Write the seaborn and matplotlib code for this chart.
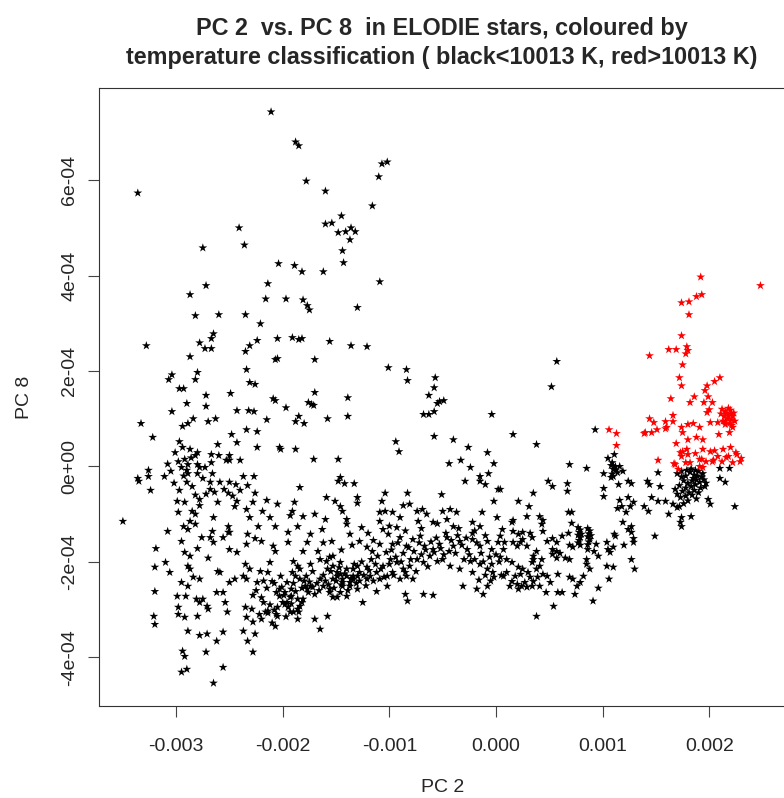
import numpy as np
import pandas as pd
import matplotlib
matplotlib.use("Agg")
import matplotlib.pyplot as plt
import seaborn as sns

# ---- data: (PC 2 in units of 1e-3, PC 8 in units of 1e-4) ----
black_top = [(-2.11,7.43),(-1.88,6.80),(-1.85,6.72),(-1.78,5.98),(-1.60,5.77),(-3.36,5.73),(-2.41,5.00),(-1.60,5.08),
    (-2.36,4.64),(-2.75,4.58),(-2.04,4.25),(-1.89,4.21),(-1.82,4.08),(-1.62,4.08),(-2.72,3.79),(-2.14,3.83),
    (-1.07,6.34),(-1.02,6.38),(-1.10,6.07),(-1.16,5.46),(-1.45,5.25),(-1.54,5.10),(-1.48,4.90),(-1.41,4.92),
    (-1.36,5.00),(-1.32,4.92),(-1.37,4.75),(-1.44,4.52),(-1.43,4.27),(-1.09,3.87)]

black_upper_left = [(-2.87,3.60),(-2.16,3.51),(-1.97,3.51),(-2.82,3.16),(-2.60,3.18),(-2.35,3.18),(-2.21,2.99),(-2.65,2.78),
    (-2.67,2.68),(-2.78,2.59),(-2.73,2.47),(-2.67,2.47),(-3.28,2.53),(-2.24,2.64),(-2.31,2.53),(-2.35,2.41),(-2.05,2.68),
    (-1.91,2.70),(-1.85,2.66),(-2.87,2.30),(-2.07,2.24),(-2.05,2.26),(-3.04,1.92),(-3.07,1.82),(-2.80,1.97),(-2.82,1.82),
    (-2.34,2.03),(-2.31,1.76),(-2.26,1.72),(-2.97,1.63),(-2.93,1.63),(-2.72,1.49),(-2.49,1.53),(-2.09,1.42),(-2.07,1.38),
    (-1.97,1.23),(-2.90,1.32),(-2.72,1.26),(-2.43,1.17),(-2.32,1.17),(-2.27,1.15),(-3.04,1.15),(-3.33,0.90),(-2.84,1.00),
    (-2.89,0.90),(-2.94,0.84),(-2.70,0.94),(-2.63,1.00),(-2.15,0.98),(-1.88,0.94),(-1.85,1.05),(-2.34,0.77),(-2.24,0.73),
    (-2.48,0.67),(-3.22,0.61),(-2.43,0.50),(-2.97,0.52),(-2.61,0.46),(-2.24,0.40),(-2.03,0.40),(-2.02,0.36),(-1.88,0.36),
    (-3.01,0.29),(-2.94,0.40),(-2.87,0.36),(-2.80,0.29),(-2.82,0.23),(-2.67,0.25),(-2.60,0.23),(-2.50,0.23),(-2.53,0.13),
    (-2.50,0.13),(-2.40,0.13),(-2.92,0.15),(-2.89,0.04),(-2.80,0.04),(-2.78,-0.02),(-2.73,-0.02),(-2.67,0.08),(-3.26,-0.08),
    (-3.26,-0.21),(-3.11,-0.21),(-2.90,-0.08),(-2.89,-0.15),(-2.80,-0.15),(-2.37,-0.21),(-2.27,-0.21),(-3.36,-0.25),
    (-3.02,-0.35),(-2.97,-0.50),(-2.93,-0.20),(-2.85,-0.42),(-2.82,-0.60),(-2.75,-0.25),(-2.72,-0.58),(-2.66,-0.15),
    (-2.55,-0.48),(-2.47,-0.62),(-2.40,-0.50),(-2.33,-0.40),(-3.05,-0.10),(-2.98,0.10),(-2.86,0.18),(-2.95,-0.02),(-3.08,0.05)]

black_upper_mid = [(-1.81,3.49),(-1.77,3.37),(-1.75,3.28),(-1.30,3.33),(-1.82,2.68),(-1.56,2.62),(-1.36,2.53),(-1.21,2.51),
    (-1.70,2.24),(-1.01,2.07),(-0.84,2.03),(-0.83,1.80),(-0.57,1.86),(-0.58,1.65),(-0.63,1.49),(-0.55,1.32),(-0.53,1.36),
    (-0.49,1.38),(-0.68,1.09),(-0.63,1.09),(-0.58,1.15),(-1.70,1.55),(-1.39,1.44),(-1.76,1.34),(-1.73,1.30),(-1.71,1.28),
    (-1.39,1.05),(-1.58,1.00),(-1.80,0.90),(-0.04,1.09),(-0.58,0.63),(-0.94,0.52),(-0.91,0.31),(-0.40,0.56),(-0.26,0.40),
    (-0.08,0.29),(-1.71,0.15),(-1.48,0.15),(-0.44,0.06),(-0.33,0.13),(-0.24,-0.02),(-0.02,0.06),(-0.07,-0.15),(-0.15,-0.21),
    (-1.46,-0.23)]

black_band_left = [(-3.50,-1.15),(-3.24,-0.50),(-3.35,-0.31),(-2.90,-0.33),(-2.68,-0.33),(-2.59,-0.33),(-2.50,-0.33),(-2.44,-0.38),
    (-2.99,-0.73),(-2.92,-0.75),(-2.78,-0.69),(-2.78,-0.82),(-2.61,-0.75),(-2.64,-0.54),(-2.68,-0.48),(-2.51,-0.56),(-2.43,-0.73),
    (-2.45,-0.84),(-2.26,-0.56),(-2.28,-0.75),(-2.15,-0.71),(-2.05,-0.79),(-1.89,-0.75),(-1.91,-0.94),(-1.84,-0.44),
    (-2.98,-0.96),(-2.85,-0.94),(-2.82,-1.00),(-2.87,-1.15),(-2.93,-1.26),(-2.82,-1.21),(-2.89,-1.32),(-2.65,-1.07),(-2.51,-1.26),
    (-2.50,-1.38),(-2.34,-0.90),(-2.31,-1.07),(-2.19,-0.94),(-2.12,-1.07),(-1.93,-1.03),(-1.86,-1.26),(-1.95,-1.38),(-2.07,-1.26),
    (-2.23,-1.26),(-2.33,-1.42),(-3.08,-1.36),(-2.95,-1.57),(-2.76,-1.49),(-2.68,-1.49),(-2.66,-1.36),(-2.65,-1.59),(-2.56,-1.49),
    (-2.51,-1.38),(-2.50,-1.74),(-2.43,-1.80),(-2.34,-1.63),(-2.26,-1.51),(-2.20,-1.57),(-2.09,-1.67),(-2.07,-1.78),(-1.95,-1.59),
    (-3.19,-1.72),(-3.20,-2.11),(-3.20,-2.62),(-3.21,-3.14),(-3.20,-3.31),(-3.10,-2.01),(-3.06,-2.22),
    (-2.92,-1.80),(-2.87,-1.88),(-2.80,-1.72),(-2.70,-1.92),(-2.89,-2.09),(-2.87,-2.15),(-2.95,-2.43),(-2.89,-2.51),(-2.84,-2.32),
    (-2.78,-2.36),(-2.61,-2.20),(-2.59,-2.22),(-2.50,-2.43),(-2.45,-2.36),(-2.35,-2.05),(-2.31,-2.15),(-2.37,-2.30),(-2.34,-2.36),
    (-2.24,-2.43),(-2.21,-2.20),(-2.14,-2.22),(-2.12,-2.01),(-2.10,-2.41),(-2.03,-2.57),(-1.90,-1.99),(-1.86,-2.09),
    (-2.99,-2.72),(-2.91,-2.72),(-2.98,-2.95),(-2.98,-3.10),(-2.92,-3.16),(-2.81,-2.78),(-2.78,-2.85),(-2.75,-2.78),(-2.71,-2.93),
    (-2.80,-3.14),(-2.70,-2.99),(-2.62,-2.64),(-2.56,-2.64),(-2.54,-2.85),(-2.52,-3.05),(-2.35,-2.95),(-2.29,-2.99),(-2.34,-3.16),
    (-2.28,-3.26),(-2.37,-3.45),(-2.26,-3.51),(-2.33,-3.66),(-2.18,-2.85),(-2.16,-3.05),(-2.20,-3.20),(-2.14,-3.03),(-2.06,-3.10),
    (-2.07,-3.35),(-1.90,-3.05),(-1.86,-3.20),(-1.96,-2.85),(-1.98,-2.64),(-2.01,-2.53),
    (-2.89,-3.45),(-2.78,-3.54),(-2.71,-3.51),(-2.62,-3.66),(-2.56,-3.47),(-2.72,-3.89),(-2.94,-3.87),(-2.92,-3.98),(-2.95,-4.31),
    (-2.90,-4.25),(-2.56,-4.21),(-2.65,-4.54),(-2.28,-3.89),
    (-2.03,-2.72),(-1.93,-2.74),(-1.86,-2.78),(-1.92,-2.57),(-1.98,-2.89),
    (-2.25,-2.60),(-2.20,-2.75),(-2.15,-2.55),(-2.12,-2.90),(-2.08,-2.45),(-2.05,-2.95),(-2.02,-2.30),(-1.99,-2.70),
    (-1.95,-2.95),(-1.90,-2.45),(-1.88,-2.62),(-1.85,-3.05),(-1.82,-2.55),(-1.80,-2.40),(-2.18,-2.40),(-2.28,-2.70),
    (-2.22,-3.10),(-1.97,-3.15),(-1.92,-2.88),(-1.88,-2.30)]

black_band_mid = [(-1.48,-0.31),(-1.42,-0.36),(-1.33,-0.36),(-0.29,-0.31),(-0.15,-0.31),(-0.10,-0.38),
    (-1.59,-0.65),(-1.51,-0.73),(-1.46,-0.84),(-1.30,-0.65),(-1.30,-0.77),(-1.04,-0.56),(-1.07,-0.73),(-0.83,-0.56),(-0.87,-0.82),
    (-0.81,-0.79),(-0.51,-0.59),(0.02,-0.48),(-0.02,-0.73),
    (-1.81,-1.05),(-1.70,-1.00),(-1.60,-1.11),(-1.44,-0.94),(-1.40,-1.11),(-1.40,-1.21),(-1.26,-1.28),(-1.09,-0.96),(-1.04,-0.94),
    (-0.97,-0.96),(-0.90,-1.07),(-1.09,-1.15),(-1.06,-1.32),(-0.93,-1.28),(-0.74,-0.94),(-0.69,-0.90),(-0.65,-1.00),(-0.73,-1.15),
    (-0.59,-1.17),(-0.50,-0.94),(-0.43,-0.90),(-0.37,-0.96),(-0.46,-1.11),(-0.40,-1.26),(-0.22,-1.17),(-0.15,-1.26),(-0.13,-0.96),
    (0.01,-1.07),
    (-1.74,-1.42),(-1.63,-1.32),(-1.54,-1.57),(-1.37,-1.42),(-1.28,-1.57),(-1.21,-1.69),(-1.16,-1.78),(-1.09,-1.63),(-1.01,-1.42),
    (-0.97,-1.63),(-0.90,-1.49),(-0.84,-1.67),(-0.78,-1.53),(-0.71,-1.46),(-0.67,-1.67),(-0.59,-1.74),(-0.53,-1.63),(-0.46,-1.49),
    (-0.40,-1.67),(-0.34,-1.57),(-0.27,-1.74),(-0.22,-1.53),(-0.15,-1.67),(-0.08,-1.57),(-0.04,-1.74),(0.02,-1.59),(-1.77,-1.59),
    (-1.81,-1.78),(-1.67,-1.78),
    (-1.84,-2.15),(-1.74,-2.05),(-1.65,-1.95),(-1.56,-1.90),(-1.53,-2.09),(-1.46,-2.26),(-1.40,-2.30),(-1.34,-2.15),(-1.28,-2.22),
    (-1.21,-2.11),(-1.12,-2.22),(-1.06,-2.09),(-0.99,-1.95),(-0.93,-2.01),(-0.87,-2.15),(-0.81,-2.09),(-0.74,-1.95),(-0.68,-2.01),
    (-0.62,-1.88),(-0.55,-1.99),(-0.50,-1.95),(-0.43,-2.09),(-0.34,-2.15),(-0.24,-1.99),(-0.15,-2.05),(-0.08,-2.15),(-0.03,-2.22),
    (-0.22,-2.22),
    (-1.79,-2.51),(-1.72,-2.53),(-1.62,-2.51),(-1.56,-2.64),(-1.49,-2.74),(-1.44,-2.51),(-1.34,-2.36),(-1.25,-2.85),(-1.12,-2.62),
    (-1.02,-2.51),(-0.85,-2.68),(-0.83,-2.82),(-0.68,-2.68),(-0.59,-2.70),(-0.31,-2.51),(-0.18,-2.57),(-0.12,-2.68),(-0.08,-2.51),
    (-1.70,-3.20),(-1.58,-3.14),(-1.65,-3.41),(-1.82,-2.85),(-1.76,-2.64),(-1.53,-2.36),(-1.21,-2.36),
    (-1.49,-2.22),(-1.44,-2.36),(-1.37,-2.43),(-1.30,-2.30),(-1.18,-2.30),(-1.09,-2.36),(-1.02,-2.30),(-0.97,-2.22),(-0.90,-2.36),
    (-0.84,-2.30),(-0.78,-2.36),
    (-1.59,-1.99),(-1.53,-1.88),(-1.46,-2.01),(-1.40,-2.15),(-1.34,-2.30),(-1.30,-2.09),(-1.49,-2.30),(-1.44,-2.43),(-1.37,-2.51),
    (-1.56,-2.57),(-1.46,-2.64),(-1.53,-2.74),(-1.40,-2.72),(-1.30,-2.57),(-1.58,-2.15),(-1.65,-2.36),(-1.70,-2.68),(-1.74,-2.51),
    (-1.81,-2.78),(-1.86,-2.99),(-1.93,-3.05),(-2.00,-2.85),(-2.06,-2.64),(-1.96,-2.43),(-1.91,-2.22),(-1.84,-2.36),(-1.77,-2.57),
    (-1.92,-2.72),(-1.84,-2.93),(-2.05,-3.14),(-2.10,-3.28),(-2.14,-3.07),(-2.08,-3.01)]

black_band_core = [(-1.78,-2.30),(-1.75,-2.42),(-1.72,-2.20),(-1.68,-2.45),(-1.66,-2.60),(-1.62,-2.28),(-1.60,-2.40),
    (-1.57,-2.48),(-1.55,-2.20),(-1.52,-2.55),(-1.50,-2.40),(-1.47,-2.12),(-1.45,-2.48),(-1.42,-2.25),(-1.39,-2.60),
    (-1.36,-2.35),(-1.33,-2.05),(-1.31,-2.45),(-1.28,-2.40),(-1.26,-2.00),(-1.24,-2.28),(-1.22,-2.50),(-1.19,-2.18),
    (-1.17,-1.95),(-1.15,-2.40),(-1.13,-2.05),(-1.11,-1.88),(-1.08,-2.15),(-1.05,-2.32),(-1.03,-1.80),(-1.00,-2.05),
    (-0.98,-1.75),(-0.96,-2.28),(-0.94,-1.90),(-0.92,-1.60),(-0.89,-2.00),(-0.87,-1.82),(-0.85,-2.22),(-0.82,-1.70),
    (-0.80,-1.95),(-0.77,-1.78),(-0.75,-2.20),(-0.72,-1.60),(-0.70,-1.85),(-0.66,-1.75),(-0.64,-2.10),(-0.61,-1.58),
    (-0.58,-1.80),(-0.56,-1.50),(-0.52,-1.72),(-0.49,-1.85),(-0.47,-1.40),(-0.44,-1.78),(-0.42,-1.55),(-0.38,-1.82),
    (-0.36,-1.45),(-0.32,-1.65),(-0.30,-1.95),(-0.28,-1.50),(-0.25,-1.85),(-0.22,-1.40),(-0.20,-1.95),(-0.18,-1.60),
    (-0.14,-1.82),(-0.12,-2.00),(-0.10,-1.45),(-0.06,-1.90),(-0.04,-2.05),(0.00,-1.85),(0.03,-2.00),(-0.02,-2.32),
    (-0.05,-2.40),(-0.10,-2.28),(-0.16,-2.38),(0.05,-2.28),(-1.20,-1.40),(-1.15,-1.55),(-1.00,-1.25),(-0.85,-1.35),
    (-0.70,-1.30),(-0.55,-1.20),(-0.35,-1.30),(-0.20,-1.35),(-1.35,-1.65),(-1.45,-1.75),(-1.62,-1.60)]

black_right = [(0.57,2.20),(0.52,1.67),(0.93,0.77),(0.16,0.67),(0.38,0.46),(1.11,0.25),(1.05,0.17),(1.09,0.08),(1.12,0.00),
    (1.10,-0.06),(1.14,-0.13),(1.10,-0.21),(1.16,0.00),(1.19,-0.10),(1.01,-0.15),(1.08,-0.23),(1.08,0.02),(1.12,-0.08),
    (1.09,-0.16),(0.69,0.04),(0.85,-0.04),(0.49,-0.31),(0.53,-0.42),(0.67,-0.36),(0.67,-0.52),(0.35,-0.56),(1.15,-0.38),
    (1.24,-0.31),(1.27,-0.36),(1.01,-0.46),(1.01,-0.63),(0.04,-0.48),(0.21,-0.73),(0.31,-0.84),(1.16,-0.71),(1.24,-0.65),
    (1.29,-0.75),(1.26,-0.84),(1.18,-0.84),(1.14,-0.88),(1.39,-0.84),(1.43,-0.94),(0.68,-0.96),(0.71,-0.96),(0.15,-1.17),
    (0.16,-1.13),(0.29,-1.05),(0.41,-1.05),(0.44,-1.13),(0.43,-1.21),(0.71,-1.19),(1.22,-0.96),(1.19,-1.17),(1.27,-1.26),
    (1.27,-1.38),(1.29,-1.51),(1.24,-1.32),(1.29,-1.59),(1.20,-1.65),(0.44,-1.36),(1.11,-1.42),(1.12,-1.46),
    (0.77,-1.28),(0.79,-1.33),(0.78,-1.38),(0.77,-1.44),(0.79,-1.49),(0.78,-1.55),(0.77,-1.60),(0.79,-1.65),(0.80,-1.42),
    (0.86,-1.30),(0.88,-1.35),(0.87,-1.41),(0.86,-1.47),(0.88,-1.53),(0.87,-1.58),(0.86,-1.64),(0.89,-1.45),
    (0.68,-1.40),(0.62,-1.46),(0.48,-1.57),(0.53,-1.51),(0.57,-1.59),(0.69,-1.65),(0.72,-1.69),(0.53,-1.74),(0.57,-1.78),
    (0.60,-1.82),(0.65,-1.92),(0.69,-1.95),(0.57,-1.92),(0.53,-1.84),(0.94,-1.63),(0.92,-1.78),(0.96,-1.88),(0.86,-1.74),
    (0.85,-1.95),(0.85,-2.05),(0.88,-2.15),(1.04,-1.59),(1.05,-1.74),(1.07,-1.80),(1.10,-1.69),(1.27,-1.95),(1.30,-2.15),
    (1.04,-2.09),(1.10,-2.11),(1.06,-2.36),(0.96,-2.55),(0.91,-2.82),(0.82,-2.30),(0.79,-2.43),(0.76,-2.51),(0.74,-2.68),
    (0.69,-2.32),(0.72,-2.36),(0.58,-2.26),(0.48,-2.30),(0.51,-2.43),(0.58,-2.64),(0.62,-2.64),(0.54,-2.93),(0.38,-3.14),
    (0.41,-2.51),(0.47,-2.64),
    (0.16,-1.36),(0.21,-1.42),(0.25,-1.38),(0.32,-1.40),(0.34,-1.49),(0.25,-1.53),(0.23,-1.59),(0.29,-1.67),(0.20,-1.67),
    (0.16,-1.59),(0.08,-1.59),(0.07,-1.74),(0.04,-1.90),(0.10,-1.95),(0.15,-2.01),(0.21,-2.11),(0.25,-2.15),(0.30,-2.22),
    (0.23,-2.26),(0.18,-2.30),(0.15,-2.41),(0.20,-2.47),(0.24,-2.51),(0.29,-2.53),(0.34,-2.51),(0.35,-2.41),(0.39,-2.32),
    (0.44,-2.26),(0.38,-2.15),(0.34,-2.01),(0.41,-2.09),(0.10,-2.22),(0.07,-2.30),(0.13,-2.51),(0.21,-2.57),(0.27,-2.43),
    (0.32,-2.32),(0.35,-1.95),(0.43,-1.95),(0.38,-1.78),(0.35,-1.88),(0.04,-1.46),(0.06,-1.32)]

black_far_right = [(2.10,-0.04),(2.19,-0.04),(1.52,-0.13),(1.42,-0.31),(1.44,-0.38),(1.54,-0.42),(2.10,-0.25),(2.15,-0.33),
    (1.46,-0.65),(1.52,-0.73),(1.59,-0.73),(1.99,-0.69),(2.01,-0.79),(1.66,-0.79),(1.70,-0.86),(2.24,-0.84),(1.62,-1.00),
    (1.74,-1.07),(1.83,-1.05),(1.73,-1.17),(1.74,-1.26),(1.49,-1.46),
    (1.70,-0.15),(1.74,-0.10),(1.78,-0.20),(1.82,-0.12),(1.86,-0.18),(1.90,-0.10),(1.93,-0.22),(1.88,-0.28),(1.84,-0.30),
    (1.80,-0.35),(1.76,-0.30),(1.72,-0.40),(1.78,-0.45),(1.83,-0.42),(1.87,-0.38),(1.91,-0.33),(1.95,-0.28),(1.92,-0.45),
    (1.86,-0.50),(1.81,-0.55),(1.75,-0.52),(1.70,-0.58),(1.73,-0.65),(1.78,-0.62),(1.84,-0.60),(1.88,-0.68),(1.80,-0.72),
    (1.76,-0.78),(1.72,-0.84),(1.85,-0.25),(1.89,-0.20),(1.94,-0.15),(1.97,-0.35),(1.90,-0.55),(1.83,-0.05),(1.79,-0.08),
    (1.68,-0.48),(1.74,-0.22),(1.96,-0.42),(1.87,-0.08)]

red_stars = [(1.92,3.97),(2.48,3.79),(1.74,3.43),(1.81,3.45),(1.88,3.56),(1.93,3.60),(1.81,3.18),(1.74,2.74),(1.44,2.32),
    (1.62,2.45),(1.69,2.45),(1.79,2.51),(1.80,2.43),(1.78,2.36),(1.75,2.13),(1.72,1.86),(1.74,1.69),(2.05,1.78),(2.10,1.86),
    (1.98,1.69),(1.96,1.59),(1.64,1.42),(1.86,1.46),(1.82,1.34),(1.99,1.46),(1.95,1.34),(2.03,1.34),(2.00,1.19),(1.98,1.13),
    (1.44,1.00),(1.06,0.77),(1.13,0.69),(1.39,0.69),(1.13,0.44),(1.48,0.92),(1.51,0.77),(1.46,0.71),(1.40,0.71),
    (1.59,0.94),(1.59,0.79),(1.66,1.07),(1.66,0.94),(1.80,0.88),(1.85,0.90),(1.74,0.82),(1.75,0.71),(1.91,0.82),(2.01,0.92),
    (2.08,0.92),(2.09,0.67),(2.19,0.71),(2.22,0.82),(1.69,0.48),(1.80,0.56),(1.88,0.61),(1.94,0.56),(1.75,0.31),(1.79,0.36),
    (1.80,0.25),(1.73,0.29),(1.94,0.36),(2.01,0.31),(2.05,0.33),(2.13,0.36),(2.08,0.21),(2.20,0.40),(2.25,0.29),(2.30,0.17),
    (2.22,0.08),(2.16,0.19),(1.87,0.27),(1.91,0.15),(1.97,0.10),(2.04,0.13),(1.52,0.13),(1.67,0.06),(1.71,-0.06),(1.82,0.08),
    (1.91,0.00),(1.60,0.82),(2.15,0.94),(2.21,0.86),(1.74,0.21),(1.93,0.15),(2.26,0.25),(2.29,0.10),(2.18,0.21),(2.12,0.10),
    (2.03,0.10),(1.68,0.04),(1.78,0.08),(1.94,-0.02),
    (2.12,1.20),(2.15,1.15),(2.18,1.22),(2.20,1.10),(2.14,1.05),(2.17,1.00),(2.21,0.98),(2.13,0.95),(2.19,0.90),(2.22,1.05),
    (2.16,1.12),(2.11,1.10),(2.24,0.95),(2.18,1.05),(2.15,0.88),(2.20,1.18),(2.23,1.12)]

x_ticks = [-0.003, -0.002, -0.001, 0.000, 0.001, 0.002]
x_tick_labels = ["-0.003", "-0.002", "-0.001", "0.000", "0.001", "0.002"]
y_ticks = [-4e-4, -2e-4, 0.0, 2e-4, 4e-4, 6e-4]
y_tick_labels = ["-4e-04", "-2e-04", "0e+00", "2e-04", "4e-04", "6e-04"]

title_text = "PC 2  vs. PC 8  in ELODIE stars, coloured by\ntemperature classification ( black<10013 K, red>10013 K)"

# ---- build table ----
black_all = (black_top + black_upper_left + black_upper_mid + black_band_left + black_band_mid
             + black_band_core + black_right + black_far_right)
rows = [(p[0] * 1e-3, p[1] * 1e-4, "black") for p in black_all] + \
       [(p[0] * 1e-3, p[1] * 1e-4, "red") for p in red_stars]
df = pd.DataFrame(rows, columns=["PC 2", "PC 8", "class"])

sns.set_style("white")
plt.rcParams['font.family'] = ['Liberation Sans', 'DejaVu Sans']

fig = plt.figure(figsize=(7.84, 7.98), dpi=100)
ax = fig.add_axes([99/784, (798-706)/798, (786-99)/784, (706-88)/798])

sns.scatterplot(data=df, x="PC 2", y="PC 8", hue="class",
                palette={"black": "black", "red": "red"},
                marker="*", s=44, linewidth=0, legend=False, ax=ax)

ax.set_xlim(-3.724e-3, 2.72e-3)
ax.set_ylim(-5.02e-4, 7.93e-4)
ax.set_xticks(x_ticks)
ax.set_xticklabels(x_tick_labels, fontsize=14)
ax.set_yticks(y_ticks)
ax.set_yticklabels(y_tick_labels, fontsize=14, rotation=90, va="center")
ax.tick_params(axis="both", direction="out", length=8, width=0.8, color="#444444",
               left=True, bottom=True)
ax.tick_params(axis="x", pad=15)
ax.tick_params(axis="y", pad=7)
for sp in ax.spines.values():
    sp.set_color("#333333")
    sp.set_linewidth(0.8)

ax.set_xlabel("PC 2", fontsize=14, labelpad=17)
ax.set_ylabel("PC 8", fontsize=14, labelpad=20)
fig.text(442/784, 1 - 43/798, title_text, ha="center", va="center",
         fontsize=16.8, fontweight="bold", linespacing=1.3)

fig.savefig("out.png", dpi=100)
